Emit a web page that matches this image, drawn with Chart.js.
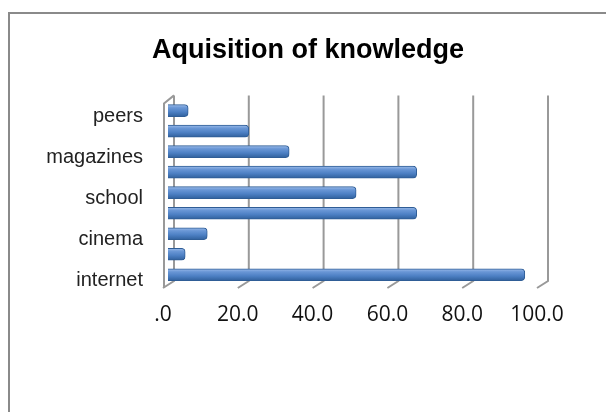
<!DOCTYPE html>
<html>
<head>
<meta charset="UTF-8">
<title>Aquisition of knowledge</title>
<script src="https://cdn.jsdelivr.net/npm/chart.js"></script>
<style>
	body { margin: 0; background: #fff; }
	#frame { position: absolute; left: 8px; top: 12px; width: 598px; height: 400px;
		border-left: 2px solid #8a8a8a; border-top: 2px solid #8a8a8a; }
	#frame canvas { display: block; }
</style>
</head>
<body>
	<div id="frame">
		<canvas id="barChart" width="596" height="398"></canvas>
	</div>

	<script>
		// categories top to bottom (only every other one carries a label)
		const categories = ['peers', '', 'magazines', '', 'school', '', 'cinema', '', 'internet'];
		const values = [5.4, 21.6, 32.4, 66.5, 50.3, 66.5, 10.5, 4.6, 95.4];
		const axisMin = 0;
		const axisMax = 100;
		const axisStep = 20;

		// cylinder-like shading for each bar
		function barFill(c){
			const chart = c.chart;
			const yScale = chart.scales.y;
			if(!chart.chartArea || !yScale || c.dataIndex === undefined){
				return '#4f81bd';
			}
			const cy = yScale.getPixelForValue(c.dataIndex);
			const g = chart.ctx.createLinearGradient(0, cy - 6, 0, cy + 6);
			g.addColorStop(0, '#9dbdea');
			g.addColorStop(0.25, '#6a97d6');
			g.addColorStop(0.6, '#4d80c4');
			g.addColorStop(1, '#30609c');
			return g;
		}

		// back wall gridlines, floor ticks and the side wall
		const wallPlugin = {
			id: 'wall',
			beforeDatasetsDraw(chart){
				const ctx = chart.ctx;
				const a = chart.chartArea;
				const x = chart.scales.x;
				ctx.save();
				ctx.strokeStyle = '#999999';
				ctx.lineWidth = 2;
				for(let v = axisMin; v <= axisMax; v += axisStep){
					const px = x.getPixelForValue(v);
					ctx.beginPath();
					ctx.moveTo(px + 6, a.top - 5);
					ctx.lineTo(px + 6, a.bottom - 4);
					ctx.lineTo(px - 5, a.bottom + 3);
					ctx.stroke();
				}
				const p0 = x.getPixelForValue(axisMin);
				ctx.beginPath();
				ctx.moveTo(p0 + 6, a.top - 5);
				ctx.lineTo(p0 - 4, a.top + 3);
				ctx.lineTo(p0 - 4, a.bottom + 3);
				ctx.stroke();
				ctx.restore();
			}
		};

		const ctx = document.getElementById('barChart').getContext('2d');
		new Chart(ctx, {
			type: 'bar',
			data: {
				labels: categories,
				datasets: [{
					data: values,
					backgroundColor: barFill,
					borderColor: '#2f5d96',
					borderWidth: 1,
					borderSkipped: 'start',
					borderRadius: { topRight: 4, bottomRight: 4 },
					barThickness: 12
				}]
			},
			options: {
				indexAxis: 'y',
				responsive: false,
				animation: false,
				layout: {
					padding: { left: 0, right: 0, top: 0, bottom: 87 }
				},
				scales: {
					x: {
						min: axisMin,
						max: axisMax,
						grid: { display: false, drawTicks: false },
						border: { display: false },
						ticks: {
							stepSize: axisStep,
							padding: 17,
							labelOffset: -5,
							color: '#111',
							font: { family: 'Open Sans', size: 21 },
							callback: function(v){
								return v.toFixed(1).replace(/^0\./, '.');
							}
						},
						afterFit: function(scale){ scale.height = 40; }
					},
					y: {
						grid: { display: false, drawTicks: false },
						border: { display: false },
						ticks: {
							autoSkip: false,
							padding: 25,
							labelOffset: 6,
							color: '#222',
							font: { family: 'Liberation Sans', size: 20 }
						},
						afterFit: function(scale){ scale.width = 158; }
					},
					// empty right-hand axis: reserves space so the title stays centred on the canvas
					yRight: {
						position: 'right',
						grid: { display: false, drawTicks: false },
						border: { display: false },
						ticks: { display: false },
						afterFit: function(scale){ scale.width = 64; }
					}
				},
				plugins: {
					legend: { display: false },
					tooltip: { enabled: false },
					title: {
						display: true,
						text: 'Aquisition of knowledge',
						color: '#000',
						font: { family: 'Liberation Sans', size: 27, weight: 'bold' },
						padding: { top: 20, bottom: 34 }
					}
				}
			},
			plugins: [wallPlugin]
		});
	</script>
</body>
</html>
